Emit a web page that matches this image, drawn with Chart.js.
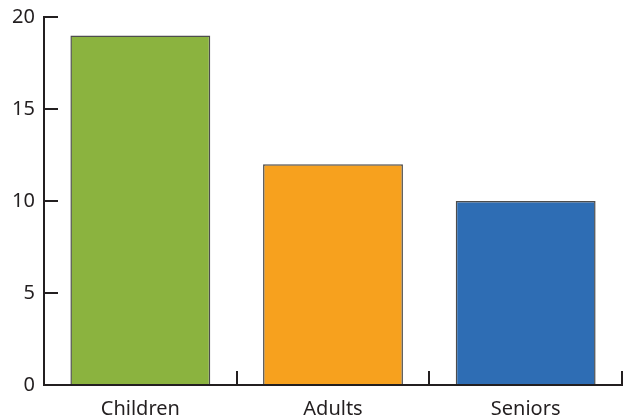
<!DOCTYPE html>
<html>
<head>
<meta charset="utf-8">
<script src="https://cdn.jsdelivr.net/npm/chart.js@4.4.0/dist/chart.umd.min.js"></script>
<style>
  html, body { margin: 0; padding: 0; background: #fff; }
  #wrap { width: 625px; height: 418px; }
</style>
</head>
<body>
<div id="wrap"><canvas id="myChart" width="625" height="418"></canvas></div>
<script>
const categories = ['Children', 'Adults', 'Seniors'];
const values = [19, 12, 10];
const barColors = ['#8bb33f', '#f7a11e', '#2e6db4'];
const yTicks = [0, 5, 10, 15, 20];

const ink = '#231f20';

const ctx = document.getElementById('myChart').getContext('2d');
const myChart = new Chart(ctx, {
    type: 'bar',
    data: {
        labels: categories,
        datasets: [{
            data: values,
            backgroundColor: barColors,
            borderColor: '#4d4d4d',
            borderWidth: 1.5,
            barPercentage: 0.726,
            categoryPercentage: 1
        }]
    },
    options: {
        responsive: false,
        animation: false,
        layout: { padding: { top: 17, right: 3, left: 0, bottom: 0 } },
        plugins: { legend: { display: false }, tooltip: { enabled: false } },
        scales: {
            x: {
                grid: { offset: true, drawOnChartArea: false, tickLength: -14, color: ink, lineWidth: 2 },
                border: { display: true, color: ink, width: 2 },
                ticks: { color: ink, font: { family: 'Noto Sans', size: 20 }, padding: 26 },
                afterFit: (scale) => {
                    scale.height = 33;
                    scale.paddingLeft = 0;
                    scale.paddingRight = 0;
                }
            },
            y: {
                min: 0,
                max: 20,
                afterBuildTicks: (scale) => { scale.ticks = yTicks.map(v => ({ value: v })); },
                grid: { drawOnChartArea: false, tickLength: -14, color: ink, lineWidth: 2 },
                border: { display: true, color: ink, width: 2 },
                ticks: { color: ink, font: { family: 'Noto Sans', size: 20 }, padding: 23 },
                afterFit: (scale) => {
                    scale.width = 44;
                    scale.paddingTop = 0;
                    scale.paddingBottom = 0;
                }
            }
        }
    }
});
</script>
</body>
</html>
